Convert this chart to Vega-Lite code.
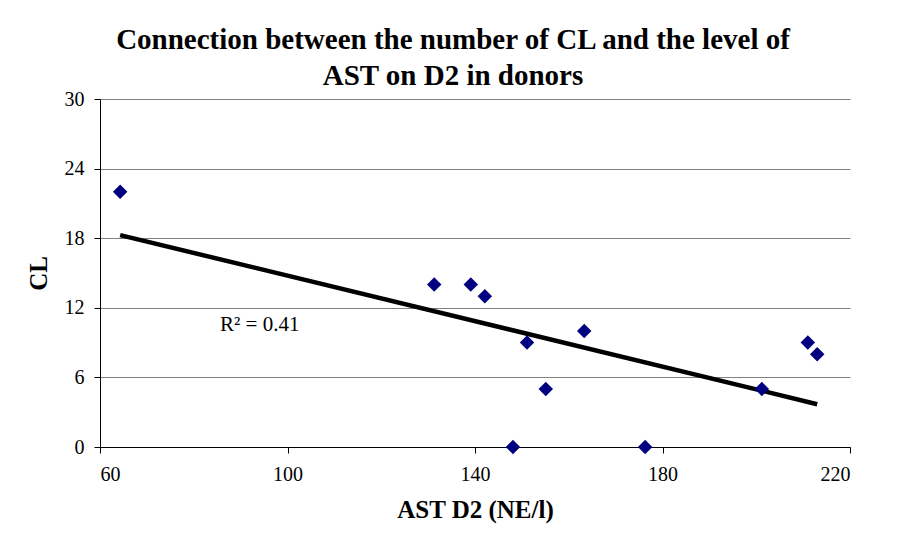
{
  "$schema": "https://vega.github.io/schema/vega-lite/v6.json",
  "width": 750,
  "height": 348,
  "autosize": "none",
  "padding": {"left": 100, "top": 99, "right": 52, "bottom": 86},
  "background": "white",
  "title": {
    "text": ["Connection between the number of CL and the level of", "AST on D2 in donors"],
    "font": "Liberation Serif",
    "fontSize": 29,
    "fontWeight": "bold",
    "color": "black",
    "anchor": "middle",
    "dx": -22,
    "offset": -2,
    "lineHeight": 36
  },
  "datasets": {
    "points": [
      {"ast": 64.3, "cl": 22},
      {"ast": 131.3, "cl": 14},
      {"ast": 139.1, "cl": 14},
      {"ast": 142.1, "cl": 13},
      {"ast": 151.1, "cl": 9},
      {"ast": 163.3, "cl": 10},
      {"ast": 155.1, "cl": 5},
      {"ast": 148.1, "cl": 0},
      {"ast": 176.3, "cl": 0},
      {"ast": 201.2, "cl": 5},
      {"ast": 211.0, "cl": 9},
      {"ast": 213.0, "cl": 8}
    ],
    "label": [{"ast": 85.6, "cl": 10.5, "text": "R² = 0.41"}]
  },
  "layer": [
    {
      "data": {"name": "points"},
      "transform": [{"regression": "cl", "on": "ast"}],
      "mark": {"type": "line", "color": "black", "strokeWidth": 4.5},
      "encoding": {
        "x": {"field": "ast", "type": "quantitative"},
        "y": {"field": "cl", "type": "quantitative"}
      }
    },
    {
      "data": {"name": "points"},
      "mark": {"type": "point", "shape": "diamond", "filled": true, "color": "#000080", "size": 210, "opacity": 1},
      "encoding": {
        "x": {
          "field": "ast", "type": "quantitative",
          "scale": {"domain": [60, 220], "nice": false, "zero": false},
          "axis": {"values": [60, 100, 140, 180, 220], "title": "AST D2 (NE/l)", "grid": false}
        },
        "y": {
          "field": "cl", "type": "quantitative",
          "scale": {"domain": [0, 30], "nice": false},
          "axis": {"values": [0, 6, 12, 18, 24, 30], "title": "CL", "grid": true}
        }
      }
    },
    {
      "data": {"name": "label"},
      "mark": {"type": "text", "align": "left", "baseline": "middle", "font": "Liberation Serif", "fontSize": 21, "color": "black"},
      "encoding": {
        "x": {"field": "ast", "type": "quantitative"},
        "y": {"field": "cl", "type": "quantitative"},
        "text": {"field": "text"}
      }
    }
  ],
  "config": {
    "view": {"stroke": null},
    "axis": {
      "labelFont": "Liberation Serif",
      "labelFontSize": 20,
      "labelColor": "black",
      "titleFont": "Liberation Serif",
      "titleFontSize": 25,
      "titleFontWeight": "bold",
      "titleColor": "black",
      "domainColor": "black",
      "tickColor": "black",
      "tickSize": 6,
      "gridColor": "#808080",
      "gridOpacity": 1
    },
    "axisX": {"labelPadding": 11, "titlePadding": 13},
    "axisY": {"labelPadding": 10, "titlePadding": 13, "labelAlign": "right"}
  }
}
